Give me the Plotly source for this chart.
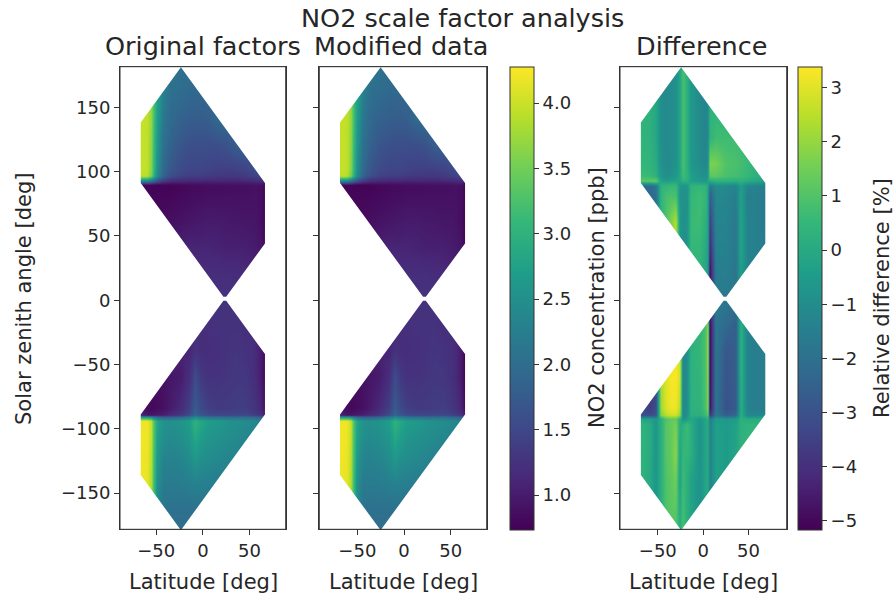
import plotly.graph_objects as go

W, H = 896, 601

# Latitude columns and solar zenith rows (top to bottom)
lat_conc = [-67, -60, -56, -53, -49, -43, -35, -25, -15, -8, -3, 5, 15, 25, 35, 45, 55, 62, 67]
sza_conc = [180, 165, 140, 120, 100, 96, 92, 89, 85, 60, 40, 20, 0, -20, -40, -60, -85, -90, -92, -95, -105, -125, -145, -165, -180]
original_values = [
    [4.0, 3.95, 3.7, 3.3, 2.8, 2.35, 2.15, 2.05, 2.0, 2.0, 2.0, 2.0, 2.0, 2.0, 2.0, 2.0, 2.0, 2.0, 2.0],
    [4.0, 3.95, 3.7, 3.3, 2.8, 2.3, 2.05, 2.0, 1.95, 1.95, 1.95, 1.95, 1.95, 1.95, 1.95, 1.95, 1.95, 1.95, 1.95],
    [3.98, 3.95, 3.7, 3.3, 2.7, 2.15, 1.95, 1.85, 1.8, 1.78, 1.78, 1.8, 1.95, 2.0, 2.0, 2.0, 2.0, 2.0, 2.0],
    [3.98, 3.95, 3.65, 3.25, 2.6, 2.05, 1.85, 1.7, 1.62, 1.6, 1.6, 1.6, 1.6, 1.65, 1.8, 1.85, 1.9, 1.9, 1.9],
    [3.98, 3.95, 3.6, 3.2, 2.5, 1.95, 1.7, 1.55, 1.48, 1.5, 1.48, 1.45, 1.42, 1.42, 1.42, 1.45, 1.55, 1.6, 1.6],
    [3.95, 3.9, 3.5, 3.1, 2.4, 1.85, 1.6, 1.45, 1.4, 1.4, 1.38, 1.35, 1.32, 1.32, 1.32, 1.35, 1.45, 1.5, 1.5],
    [2.4, 2.35, 2.1, 1.9, 1.6, 1.35, 1.2, 1.15, 1.12, 1.12, 1.12, 1.1, 1.1, 1.1, 1.1, 1.12, 1.15, 1.18, 1.1],
    [0.8, 0.8, 0.78, 0.78, 0.78, 0.78, 0.78, 0.82, 0.84, 0.86, 0.86, 0.88, 0.88, 0.9, 0.9, 0.9, 0.92, 0.9, 0.78],
    [0.78, 0.78, 0.78, 0.78, 0.78, 0.78, 0.78, 0.8, 0.82, 0.84, 0.84, 0.86, 0.86, 0.88, 0.88, 0.88, 0.9, 0.88, 0.76],
    [0.8, 0.8, 0.8, 0.8, 0.82, 0.85, 0.88, 0.92, 0.95, 0.97, 0.98, 1.0, 1.0, 0.98, 0.97, 0.95, 0.95, 0.88, 0.75],
    [1.0, 1.0, 1.0, 1.0, 1.0, 1.0, 1.0, 1.05, 1.1, 1.1, 1.1, 1.1, 1.08, 1.05, 1.05, 1.05, 1.0, 0.95, 0.8],
    [1.2, 1.2, 1.2, 1.2, 1.2, 1.2, 1.2, 1.2, 1.2, 1.2, 1.2, 1.2, 1.2, 1.2, 1.18, 1.15, 1.1, 1.0, 0.85],
    [1.25, 1.25, 1.25, 1.25, 1.25, 1.25, 1.25, 1.25, 1.25, 1.25, 1.25, 1.25, 1.25, 1.25, 1.25, 1.25, 1.2, 1.1, 0.9],
    [1.2, 1.2, 1.2, 1.2, 1.2, 1.2, 1.2, 1.2, 1.2, 1.2, 1.2, 1.22, 1.25, 1.25, 1.25, 1.2, 1.2, 1.05, 0.82],
    [1.1, 1.1, 1.1, 1.1, 1.1, 1.1, 1.1, 1.1, 1.1, 1.25, 1.2, 1.2, 1.22, 1.25, 1.28, 1.25, 1.2, 1.0, 0.78],
    [0.9, 0.9, 0.9, 0.9, 0.9, 0.9, 0.95, 1.0, 1.2, 1.55, 1.35, 1.25, 1.25, 1.28, 1.32, 1.3, 1.2, 1.0, 0.76],
    [1.0, 0.85, 0.82, 0.82, 0.85, 0.9, 1.0, 1.15, 1.4, 1.75, 1.55, 1.4, 1.35, 1.35, 1.38, 1.38, 1.28, 1.1, 0.85],
    [1.1, 0.95, 0.95, 0.95, 1.0, 1.05, 1.15, 1.3, 1.55, 1.9, 1.7, 1.55, 1.5, 1.5, 1.5, 1.5, 1.4, 1.25, 1.0],
    [2.6, 2.55, 2.4, 2.2, 1.9, 1.8, 1.8, 1.9, 2.1, 2.4, 2.25, 2.1, 2.05, 2.0, 2.0, 2.0, 1.9, 1.8, 1.6],
    [4.2, 4.2, 3.95, 3.4, 2.8, 2.55, 2.5, 2.55, 2.7, 3.0, 2.85, 2.7, 2.65, 2.55, 2.5, 2.45, 2.4, 2.3, 2.2],
    [4.22, 4.2, 3.95, 3.4, 2.75, 2.5, 2.45, 2.5, 2.62, 2.9, 2.75, 2.6, 2.55, 2.5, 2.45, 2.4, 2.3, 2.2, 2.1],
    [4.22, 4.18, 3.9, 3.35, 2.6, 2.35, 2.3, 2.35, 2.45, 2.6, 2.5, 2.45, 2.4, 2.35, 2.3, 2.2, 2.1, 2.1, 2.1],
    [4.2, 4.15, 3.85, 3.3, 2.5, 2.2, 2.2, 2.2, 2.25, 2.3, 2.28, 2.25, 2.2, 2.2, 2.2, 2.2, 2.1, 2.1, 2.1],
    [4.2, 4.15, 3.85, 3.3, 2.4, 2.1, 2.05, 2.05, 2.05, 2.05, 2.05, 2.05, 2.05, 2.05, 2.05, 2.05, 2.05, 2.05, 2.05],
    [4.2, 4.15, 3.85, 3.3, 2.4, 2.05, 2.0, 2.0, 2.0, 2.0, 2.0, 2.0, 2.0, 2.0, 2.0, 2.0, 2.0, 2.0, 2.0],
]
# The two concentration panels cannot be told apart by eye, so one reading serves both
modified_values = original_values
# The middle panel's data sit slightly left of its ticks
lat_modified = [-68.6, -61.6, -57.6, -54.6, -50.6, -44.6, -36.6, -26.6, -16.6, -9.6, -4.6, 3.4, 13.4, 23.4, 33.4, 43.4, 53.4, 60.4, 65.4]

lat_diff = [-68.9, -59.7, -52.3, -46.8, -41.2, -35.7, -30.3, -26.5, -22.8, -18.4, -13.7, -4.5, 2.9, 5.2, 7.3, 13.8, 24.9, 35.8, 41.4, 48.7, 58, 68.9]
sza_diff = [180, 150, 125, 105, 96, 92, 88, 80, 60, 40, 20, 0, -20, -40, -60, -85, -90, -93, -98, -120, -140, -180]
difference_values = [
    [0.4, 0.3, -0.1, -0.9, -1.1, -1.0, -0.9, -0.2, 0.9, 0.3, -0.6, -1.1, -1.3, -1.0, 0.3, 0.3, 0.3, 0.3, 0.3, 0.3, 0.3, 0.3],
    [0.4, 0.3, -0.1, -0.9, -1.1, -1.0, -0.9, -0.2, 0.9, 0.3, -0.6, -1.1, -1.3, -1.0, 0.3, 0.4, 0.4, 0.4, 0.4, 0.4, 0.4, 0.4],
    [0.4, 0.3, -0.1, -0.9, -1.1, -1.0, -0.9, -0.2, 0.9, 0.3, -0.6, -1.1, -1.3, -1.0, 0.4, 0.7, 0.7, 0.7, 0.6, 0.5, 0.4, 0.3],
    [0.5, 0.4, 0.1, -0.8, -1.1, -1.0, -0.8, -0.1, 0.9, 0.3, -0.6, -1.0, -1.2, -0.8, 1.7, 1.6, 1.0, 0.9, 0.8, 0.6, 0.4, 0.2],
    [0.7, 0.6, 0.3, -0.6, -0.9, -0.8, -0.6, -0.1, 0.7, 0.4, -0.3, -0.8, -0.9, -0.5, 1.2, 1.2, 0.9, 0.8, 0.7, 0.5, 0.3, 0.2],
    [1.2, 1.2, 1.3, -0.2, -0.4, -0.3, -0.2, -0.2, 0.3, 0.2, -0.3, -0.5, -0.6, -0.2, 0.1, 0.3, 0.3, 0.2, 0.3, 0.1, -0.1, -0.3],
    [-2.2, -2.2, -1.8, 0.3, 0.5, 0.6, 0.6, -0.6, -0.7, -0.7, 0.4, 0.5, 0.4, -0.2, -1.7, -1.0, -1.1, -1.3, -0.4, -1.3, -1.3, -1.5],
    [-2.4, -2.3, -2.0, 0.4, 0.8, 0.9, 0.9, -0.7, -0.9, -0.9, 0.5, 0.7, 0.5, -0.3, -2.6, -1.2, -1.2, -1.5, -0.3, -1.5, -1.4, -1.7],
    [-2.4, -2.3, -2.0, 0.4, 1.0, 1.7, 2.4, -0.6, -0.9, -0.8, 0.6, 0.7, 0.2, -0.3, -3.5, -1.3, -1.3, -1.7, -0.2, -1.4, -1.4, -1.7],
    [-2.4, -2.3, -2.0, 0.4, 1.0, 1.7, 2.4, -0.6, -0.9, -0.8, 0.5, 0.5, 0.0, -0.4, -4.2, -1.4, -1.4, -1.7, -0.2, -1.4, -1.4, -1.6],
    [-2.4, -2.3, -2.0, 0.4, 1.0, 1.7, 2.4, -0.6, -0.9, -0.8, 0.4, 0.3, -0.1, -0.5, -4.9, -1.6, -1.5, -1.8, -0.3, -1.4, -1.4, -1.5],
    [-2.4, -2.3, -2.0, 0.4, 1.0, 1.7, 2.4, -0.6, -0.9, -0.8, 0.4, 0.3, 0.0, -0.5, -4.0, -1.6, -1.7, -1.8, -0.2, -1.4, -1.4, -1.5],
    [-3.2, -3.5, -3.3, 2.5, 3.0, 3.3, 3.3, 2.8, -1.2, -1.0, 0.3, 0.4, 1.0, 2.0, -5.0, -1.8, -2.2, -2.6, 0.3, -1.4, -1.4, -1.5],
    [-3.2, -3.5, -3.3, 2.5, 3.0, 3.3, 3.3, 2.8, -1.2, -1.0, 0.3, 0.5, 1.0, 2.2, -5.0, -1.8, -2.8, -2.6, 0.3, -1.4, -1.5, -1.5],
    [-3.2, -3.6, -3.3, 2.3, 3.0, 3.3, 3.35, 2.8, -1.2, -1.0, 0.3, 0.4, 1.0, 2.0, -5.0, -1.8, -2.9, -2.6, 0.3, -1.4, -1.5, -1.5],
    [-3.3, -3.6, -3.2, 2.1, 2.9, 3.2, 3.2, 2.5, -1.2, -1.0, 0.3, 0.3, 1.0, 1.8, -4.8, -1.9, -3.0, -2.7, 0.2, -1.4, -1.5, -1.6],
    [-3.0, -3.2, -2.9, 1.8, 2.5, 2.8, 2.8, 2.0, -1.1, -0.9, 0.2, 0.2, 0.7, 1.2, -4.0, -1.7, -2.6, -2.3, 0.2, -1.2, -1.2, -1.2],
    [-0.2, -0.3, -0.7, 0.2, 1.0, 1.3, 1.3, 0.3, -0.8, -0.4, -0.1, -0.6, -0.1, 0.1, -1.6, -0.5, -0.7, -0.5, 0.3, 0.1, 0.1, 0.2],
    [0.4, 0.1, -0.7, 0.2, 1.1, 1.3, 1.6, 0.1, 0.3, 0.7, 0.2, -0.8, -0.1, 0.0, -1.4, -0.3, -0.5, -0.3, 0.3, 0.4, 0.4, 0.4],
    [0.4, 0.1, -0.7, 0.2, 1.1, 1.3, 1.9, -0.2, 0.5, 0.5, 0.2, -0.8, -0.1, 0.0, -1.4, -0.3, -0.5, -0.2, 0.3, 0.4, 0.4, 0.4],
    [0.4, 0.0, -0.7, 0.2, 1.0, 1.2, 1.5, -0.3, 0.7, 0.2, -0.2, -0.8, -0.1, 0.0, -1.4, -0.3, -0.5, -0.2, 0.3, 0.4, 0.4, 0.4],
    [0.4, 0.0, -0.7, 0.2, 1.0, 1.1, 1.0, 0.2, 0.9, 0.3, -0.2, -0.8, -0.1, 0.0, -1.4, -0.3, -0.5, -0.2, 0.3, 0.4, 0.4, 0.4],
]

# Outline of the sampled region in the upper half (latitude, zenith angle); the lower half mirrors it
region_lat_original = [-23.5, 66.5, 66.5, 25, 22, -66.5, -66.5]
region_lat_modified = [-25.1, 65.4, 65.4, 23.4, 20.4, -68.6, -68.6]
region_lat_diff = [-24.3, 68.5, 68.5, 25.5, 22.5, -68.7, -68.7]
region_sza = [180, 90, 43, 1.5, 1.5, 90, 137]
sza_shift = 1.2  # the data sit this far above the tick positions

conc_ticks = [1.0, 1.5, 2.0, 2.5, 3.0, 3.5, 4.0]
conc_range = [0.737, 4.28]
diff_ticks = [-5, -4, -3, -2, -1, 0, 1, 2, 3]
diff_range = [-5.16, 3.39]
lat_ticks = [-50, 0, 50]
sza_ticks = [-150, -100, -50, 0, 50, 100, 150]

FONT = "DejaVu Sans"
TXT = "#262626"
LINE = "#333333"
TOP, BOT = 66.7, 529.3
panels = [(120, 285.7), (319.3, 486.7), (620, 786.7)]
x_ranges = [[-88.7, 88.7], [-90.8, 88.6], [-91.7, 92.1]]
y_range = [-178.1, 181.6]
ydom = [1 - BOT / H, 1 - TOP / H]
TICK_FS = 18
LABEL_FS = 21
TITLE_FS = 25.5


def cbar(x, ticks, fmt):
    return dict(x=x / W, xanchor="left", xpad=0, ypad=0, y=sum(ydom) / 2, yanchor="middle",
                len=ydom[1] - ydom[0], lenmode="fraction", thickness=23.5, thicknessmode="pixels",
                outlinecolor=LINE, outlinewidth=1, tickmode="array", tickvals=ticks, tickformat=fmt,
                ticks="outside", ticklen=5, tickwidth=1, tickcolor=LINE,
                tickfont=dict(family=FONT, size=TICK_FS, color=TXT))


def rows(szas):
    return [s + sza_shift for s in szas[::-1]]


fig = go.Figure()
fig.add_trace(go.Heatmap(x=lat_conc, y=rows(sza_conc), z=original_values[::-1], colorscale="Viridis",
                         zmin=conc_range[0], zmax=conc_range[1], zsmooth="best", showscale=False,
                         xaxis="x", yaxis="y"))
fig.add_trace(go.Heatmap(x=lat_modified, y=rows(sza_conc), z=modified_values[::-1], colorscale="Viridis",
                         zmin=conc_range[0], zmax=conc_range[1], zsmooth="best",
                         colorbar=cbar(509.8, conc_ticks, ".1f"), xaxis="x2", yaxis="y2"))
fig.add_trace(go.Heatmap(x=lat_diff, y=rows(sza_diff), z=difference_values[::-1], colorscale="Viridis",
                         zmin=diff_range[0], zmax=diff_range[1], zsmooth="best",
                         colorbar=cbar(797.6, diff_ticks, "d"), xaxis="x3", yaxis="y3"))


def xax(i):
    return dict(domain=[panels[i][0] / W, panels[i][1] / W], range=x_ranges[i], anchor="y" + ("" if i == 0 else str(i + 1)),
                tickmode="array", tickvals=lat_ticks, ticks="outside", ticklen=5, tickwidth=1, tickcolor=LINE,
                showgrid=False, zeroline=False, showline=True, linecolor=LINE, linewidth=1, mirror=True,
                tickfont=dict(family=FONT, size=TICK_FS, color=TXT), automargin=False)


def yax(i):
    return dict(domain=ydom, range=y_range, anchor="x" + ("" if i == 0 else str(i + 1)),
                tickmode="array", tickvals=sza_ticks, ticks="outside", ticklen=5, tickwidth=1, tickcolor=LINE,
                showgrid=False, zeroline=False, showline=True, linecolor=LINE, linewidth=1, mirror=True,
                showticklabels=i == 0, tickfont=dict(family=FONT, size=TICK_FS, color=TXT), automargin=False)


def ring(lats, szas, sign):
    pts = ["%s%g,%g" % ("M" if k == 0 else "L", a, sign * b + sza_shift) for k, (a, b) in enumerate(zip(lats, szas))]
    return " ".join(pts) + " Z"


outer = "M-300,-300 L300,-300 L300,300 L-300,300 Z "
shapes = []
for i, region_lat in enumerate([region_lat_original, region_lat_modified, region_lat_diff]):
    s = "" if i == 0 else str(i + 1)
    mask = outer + ring(region_lat, region_sza, 1) + " " + ring(region_lat, region_sza, -1)
    shapes.append(dict(type="path", path=mask, xref="x" + s, yref="y" + s, fillcolor="white",
                       line=dict(width=0), layer="above", fillrule="evenodd"))
    shapes.append(dict(type="rect", xref="x%s domain" % s, yref="y%s domain" % s, x0=0, x1=1, y0=0, y1=1,
                       line=dict(color=LINE, width=1), fillcolor="rgba(0,0,0,0)", layer="above"))


def note(text, x, y, size=TITLE_FS, angle=0):
    return dict(text=text, x=x / W, y=1 - y / H, xref="paper", yref="paper", showarrow=False,
                xanchor="center", yanchor="middle", textangle=angle,
                font=dict(family=FONT, size=size, color=TXT))


fig.update_layout(
    width=W, height=H, autosize=False, paper_bgcolor="white", plot_bgcolor="white",
    margin=dict(l=0, r=0, t=0, b=0), showlegend=False, shapes=shapes,
    xaxis=xax(0), xaxis2=xax(1), xaxis3=xax(2), yaxis=yax(0), yaxis2=yax(1), yaxis3=yax(2),
    annotations=[
        note("NO2 scale factor analysis", 462, 18),
        note("Original factors", 203, 46),
        note("Modified data", 401, 46),
        note("Difference", 701, 46),
        note("Latitude [deg]", 203.5, 582, LABEL_FS),
        note("Latitude [deg]", 403, 582, LABEL_FS),
        note("Latitude [deg]", 703, 582, LABEL_FS),
        note("Solar zenith angle [deg]", 24, 299, LABEL_FS, -90),
        note("NO2 concentration [ppb]", 597, 298, LABEL_FS, -90),
        note("Relative difference [%]", 882, 298, LABEL_FS, -90),
    ],
)
fig.write_html("out.html", post_script="document.body.style.margin='0';",
               config={"displayModeBar": False})
